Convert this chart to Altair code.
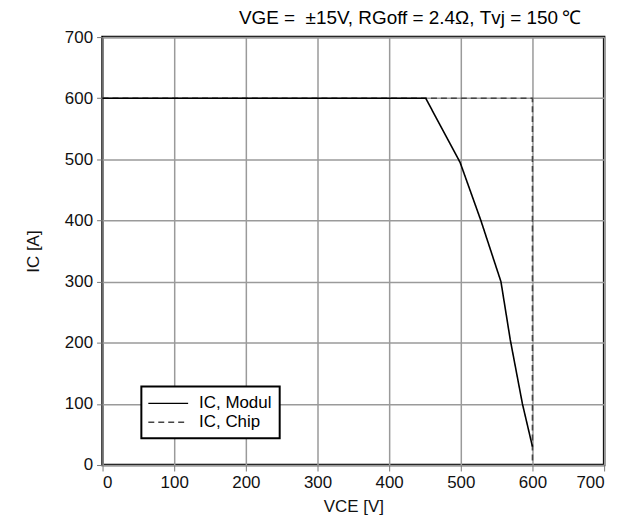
import altair as alt
import pandas as pd

modul_v = [0, 451, 499, 528, 556, 569, 586, 597, 600]
modul_i = [600, 600, 495, 400, 300, 205, 100, 45, 30]
chip_v = [0, 600, 600]
chip_i = [600, 600, 0]
series = ["IC, Modul", "IC, Chip"]

rows = []
for k, (v, i) in enumerate(zip(chip_v, chip_i)):
    rows.append({"V": v, "I": i, "s": series[1], "o": k})
for k, (v, i) in enumerate(zip(modul_v, modul_i)):
    rows.append({"V": v, "I": i, "s": series[0], "o": k})
df = pd.DataFrame(rows)

FONT = "Liberation Sans"

leg = alt.Legend(title=None, orient="none", legendX=39, legendY=351,
                 symbolType="M-2.5,0H2.5", symbolSize=256,
                 symbolStrokeWidth=1.3, symbolFillColor="transparent",
                 strokeColor="black", padding=8, fillColor="white",
                 labelFont=FONT, labelFontSize=17, labelColor="black",
                 labelOffset=22, rowPadding=2, symbolOffset=10, labelLimit=250)

chart = alt.Chart(df).mark_line(strokeWidth=1.6).encode(
    x=alt.X("V:Q", scale=alt.Scale(domain=[0, 700], nice=False),
            axis=alt.Axis(values=list(range(0, 701, 100)), title="VCE  [V]",
                          titlePadding=8)),
    y=alt.Y("I:Q", scale=alt.Scale(domain=[0, 700], nice=False),
            axis=alt.Axis(values=list(range(0, 701, 100)), title="IC [A]",
                          titlePadding=22)),
    strokeDash=alt.StrokeDash("s:N", scale=alt.Scale(domain=series, range=[[1, 0], [6, 4]]),
                              legend=leg),
    color=alt.Color("s:N", scale=alt.Scale(domain=series, range=["black", "#444444"]), legend=leg),
    order="o:Q",
).properties(
    width=504, height=430,
    title=alt.TitleParams("VGE =\u00a0\u00a0±15V, RGoff = 2.4Ω, Tvj = 150\u2009℃", anchor="end",
                          font=FONT, fontSize=19, fontWeight="normal", color="black",
                          offset=0, dx=-24),
    padding={"left": 95, "top": 28, "right": 25, "bottom": 52},
    autosize=alt.AutoSizeParams(type="none"),
).configure_view(
    stroke="black", strokeWidth=2.5
).configure_axis(
    grid=True, gridColor="#9a9a9a", gridWidth=1.5, domain=False,
    tickColor="#777777", tickSize=6, labelFont=FONT, labelFontSize=17, labelColor="#111111",
    titleFont=FONT, titleFontSize=17, titleFontWeight="normal", titleColor="#111111",
    labelPadding=4
).configure_legend(
    strokeWidth=2
)

chart.save("out.html", embed_options={"renderer": "svg", "actions": False})
